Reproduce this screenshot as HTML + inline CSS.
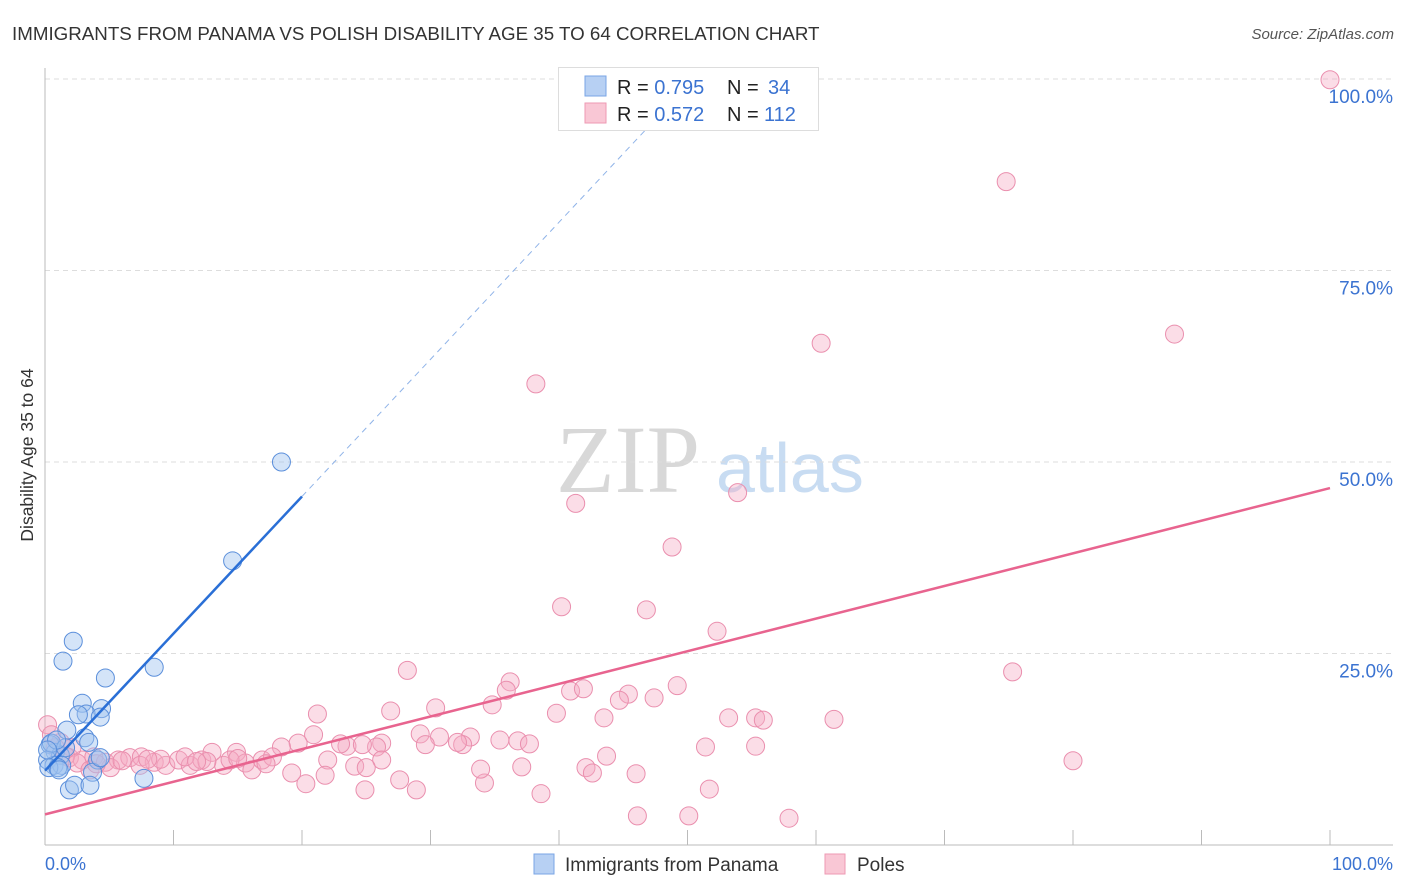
<!DOCTYPE html>
<html><head><meta charset="utf-8"><style>
body{margin:0;background:#fff;font-family:"Liberation Sans",sans-serif;}
#wrap{position:relative;width:1406px;height:892px;overflow:hidden;}
</style></head><body>
<div id="wrap">
<svg id="svg" width="1406" height="892" xmlns="http://www.w3.org/2000/svg">
<text x="12" y="40" font-size="18.75" fill="#333">IMMIGRANTS FROM PANAMA VS POLISH DISABILITY AGE 35 TO 64 CORRELATION CHART</text>
<text x="1394" y="39" font-size="15" fill="#555" font-style="italic" text-anchor="end">Source: ZipAtlas.com</text>
<text transform="translate(33,455) rotate(-90)" font-size="17.5" fill="#333" text-anchor="middle">Disability Age 35 to 64</text>
<text x="556" y="492" font-size="96" fill="#d8d8d8" font-family="Liberation Serif,serif">ZIP</text>
<text x="716" y="492" font-size="70" fill="#c8dcf2">atlas</text>
<g id="grid"></g><g id="pts"></g><g id="lines"></g>
<g>
<rect x="558.5" y="67.5" width="260" height="63" fill="#fff" stroke="#ddd"/>
<rect x="585" y="76" width="21" height="20" fill="#b7d0f3" stroke="#7aa5e6"/>
<rect x="585" y="103" width="21" height="20" fill="#f9c7d5" stroke="#ee9ab3"/>
<text x="617" y="94" font-size="20" fill="#222">R = <tspan fill="#3b73d1">0.795</tspan><tspan x="727">N = </tspan><tspan x="768" fill="#3b73d1">34</tspan></text>
<text x="617" y="121" font-size="20" fill="#222">R = <tspan fill="#3b73d1">0.572</tspan><tspan x="727">N = </tspan><tspan x="764" fill="#3b73d1">112</tspan></text>
</g>
<g>
<rect x="534" y="854" width="20" height="20" fill="#b7d0f3" stroke="#7aa5e6"/>
<text x="565" y="871" font-size="19" fill="#333">Immigrants from Panama</text>
<rect x="825" y="854" width="20" height="20" fill="#f9c7d5" stroke="#ee9ab3"/>
<text x="857" y="871" font-size="19" fill="#333">Poles</text>
</g>
</svg></div>
<script>
const xTicks=[0,10,20,30,40,50,60,70,80,90,100];
const yTicks=[25,50,75,100];
const yTickLabels=["25.0%","50.0%","75.0%","100.0%"];
const blueX=[18.4,14.6,8.5,2.2,1.4,4.7,2.9,4.4,3.2,2.6,4.3,1.7,3.1,3.4,0.4,0.8,1.2,0.2,0.7,1.3,0.3,1.0,4.1,3.7,7.7,1.9,2.3,3.5,0.5,1.6,0.9,0.2,4.3,1.1];
const blueY=[50.0,37.1,23.2,26.6,24.0,21.8,18.5,17.8,17.1,17.0,16.7,15.0,14.0,13.4,13.1,12.1,11.7,11.1,10.4,10.4,10.1,10.1,11.1,9.5,8.7,7.2,7.8,7.8,13.3,12.7,13.7,12.4,11.4,9.8];
const pinkX=[100,74.8,60.4,87.9,38.2,53.9,41.3,48.8,40.2,46.8,52.3,75.3,28.2,36.2,35.9,40.9,41.9,45.4,47.4,49.2,44.7,34.8,30.4,26.9,21.2,39.8,43.5,53.2,55.3,55.9,61.4,20.9,33.1,29.2,30.7,35.4,36.8,37.7,32.5,29.6,26.2,23.5,23.0,19.7,18.4,25.8,24.7,32.1,51.4,55.3,43.7,22.0,26.2,24.1,25.0,19.2,21.8,27.6,28.9,24.9,20.3,34.2,37.1,33.9,42.1,42.6,46.0,38.6,51.7,46.1,50.1,57.9,80.0,1.9,2.9,3.8,4.7,5.7,6.6,7.5,8.5,9.4,10.4,11.3,12.2,13.0,13.9,14.9,15.6,16.1,16.9,17.7,10.9,7.4,5.1,14.4,0.2,0.5,1.2,2.1,1.6,2.5,3.5,0.8,6.0,9.0,12.6,15.0,17.2,11.8,8.0,4.0];
const pinkY=[99.9,86.6,65.5,66.7,60.2,46.0,44.6,38.9,31.1,30.7,27.9,22.6,22.8,21.3,20.2,20.1,20.4,19.7,19.2,20.8,18.9,18.3,17.9,17.5,17.1,17.2,16.6,16.6,16.6,16.3,16.4,14.4,14.1,14.5,14.1,13.7,13.6,13.2,13.1,13.1,13.3,12.9,13.2,13.3,12.8,12.8,13.1,13.4,12.8,12.9,11.6,11.1,11.1,10.3,10.1,9.4,9.1,8.5,7.2,7.2,8.0,8.1,10.2,9.9,10.1,9.4,9.3,6.7,7.3,3.8,3.8,3.5,11.0,11.4,11.1,11.5,10.8,11.1,11.4,11.5,10.8,10.4,11.1,10.4,11.1,12.1,10.4,12.1,10.7,9.8,11.1,11.5,11.5,10.4,10.1,11.1,15.7,14.4,13.4,12.7,11.6,10.7,9.8,12.7,11.0,11.2,10.9,11.3,10.6,10.9,11.2,10.6];
const blueLine=[9.7,1.79];
const pinkLine=[4.0,0.426];
const X=v=>45+v*12.85, Y=v=>845-v*7.66;
const NS="http://www.w3.org/2000/svg";
function mk(p,t,a){const e=document.createElementNS(NS,t);for(const k in a)e.setAttribute(k,a[k]);p.appendChild(e);return e;}
const grid=document.getElementById('grid');
yTicks.forEach((t,i)=>{
 const l=mk(grid,'line',{x1:45,x2:1393,y1:Y(t),y2:Y(t),stroke:'#ddd','stroke-dasharray':'5,4'});
 
 
 const tx=mk(grid,'text',{x:1393,y:Y(t)+24,'font-size':19,fill:'#3b73d1','text-anchor':'end'});
 tx.textContent=yTickLabels[i];
 
 
});
mk(grid,'line',{x1:45,x2:45,y1:68,y2:845,stroke:'#bbb'});
mk(grid,'line',{x1:45,x2:1393,y1:845,y2:845,stroke:'#bbb'});
xTicks.forEach(t=>{if(t>0){const l=mk(grid,'line',{x1:X(t),x2:X(t),y1:830,y2:845,stroke:'#bbb'});
 
 }});
const x0=mk(grid,'text',{x:45,y:870,'font-size':18,fill:'#3b73d1'});x0.textContent='0.0%';


const x1=mk(grid,'text',{x:1393,y:870,'font-size':18,fill:'#3b73d1','text-anchor':'end'});x1.textContent='100.0%';


const pts=document.getElementById('pts');
pinkX.forEach((v,i)=>{const c=mk(pts,'circle',{cx:X(v),cy:Y(pinkY[i]),r:9,fill:'rgba(246,170,195,0.4)',stroke:'#ea8fae','stroke-width':1});
 
 });
blueX.forEach((v,i)=>{const c=mk(pts,'circle',{cx:X(v),cy:Y(blueY[i]),r:9,fill:'rgba(160,195,240,0.45)',stroke:'#5b8fdb','stroke-width':1});
 
 });
const lines=document.getElementById('lines');
const bl=mk(lines,'line',{x1:X(0),y1:Y(blueLine[0]),x2:X(20),y2:Y(blueLine[0]+20*blueLine[1]),stroke:'#2a6fd6','stroke-width':2.5});


const bd=mk(lines,'line',{x1:X(20),y1:Y(blueLine[0]+20*blueLine[1]),x2:X(47),y2:Y(blueLine[0]+47*blueLine[1]),stroke:'#8fb3e8','stroke-width':1,'stroke-dasharray':'6,5'});


const pl=mk(lines,'line',{x1:X(0),y1:Y(pinkLine[0]),x2:X(100),y2:Y(pinkLine[0]+100*pinkLine[1]),stroke:'#e8648f','stroke-width':2.5});


</script>
</body></html>
